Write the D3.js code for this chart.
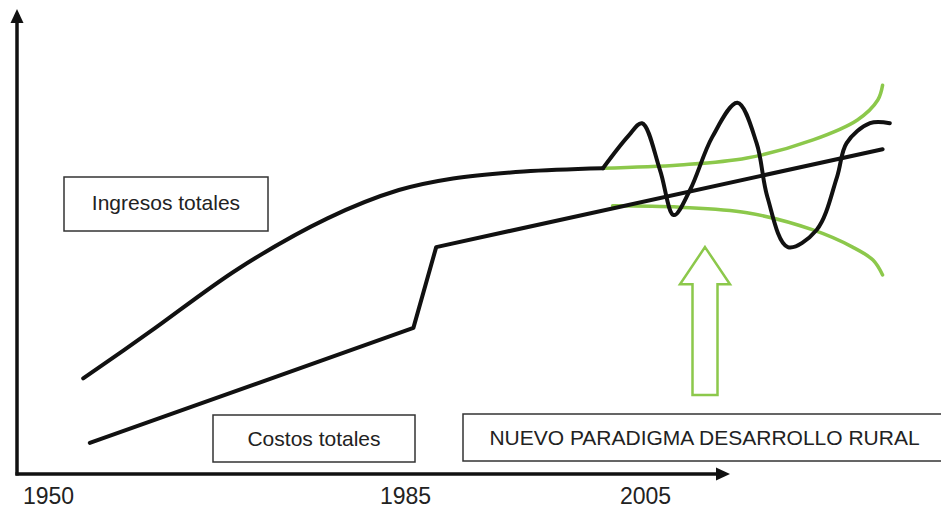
<!DOCTYPE html>
<html>
<head>
<meta charset="utf-8">
<script src="https://cdn.jsdelivr.net/npm/d3@7"></script>
<style>
  body { margin: 0; background: #fff; }
  text { font-family: "Liberation Sans", Arial, sans-serif; fill: #222; }
</style>
</head>
<body>
<div id="chart"></div>
<script>
// Years on the time axis (conceptual, not to scale)
const axisYears = [1950, 1985, 2005];

// Ingresos totales: smooth rise up to ~2001
const ingresosTrend = [
  { year: 1953.45, v: 20.6 }, { year: 1959.9, v: 30.5 }, { year: 1968.7, v: 44.3 },
  { year: 1977.4, v: 55.1 }, { year: 1984.4, v: 61.2 }, { year: 1989.0, v: 63.7 },
  { year: 1994.9, v: 65.2 }, { year: 2001.5, v: 65.9 }
];

// Ingresos totales: volatile phase after ~2001
const ingresosVolatile = [
  { year: 2001.5, v: 65.9 }, { year: 2003.6, v: 72.8 }, { year: 2004.75, v: 75.6 },
  { year: 2006.25, v: 65.5 }, { year: 2007.4, v: 55.8 }, { year: 2008.75, v: 61.2 },
  { year: 2010.6, v: 72.6 }, { year: 2012.7, v: 80.0 }, { year: 2014.3, v: 71.3 },
  { year: 2015.2, v: 59.7 }, { year: 2016.9, v: 48.9 }, { year: 2019.3, v: 52.6 },
  { year: 2021.0, v: 64.0 }, { year: 2021.8, v: 71.3 }, { year: 2023.75, v: 75.6 },
  { year: 2025.4, v: 75.6 }
];

// Costos totales: linear, jump around 1986
const costos = [
  { year: 1954.1, v: 6.7 }, { year: 1985.7, v: 31.5 },
  { year: 1987.6, v: 48.9 }, { year: 2024.8, v: 70.0 }
];

// Green envelope (upper and lower band)
const bandUpper = [
  { year: 2001.4, v: 65.9 }, { year: 2007.9, v: 66.6 }, { year: 2013.5, v: 68.1 },
  { year: 2019.0, v: 72.0 }, { year: 2022.7, v: 76.3 }, { year: 2024.4, v: 80.6 },
  { year: 2024.8, v: 83.8 }
];
const bandLower = [
  { year: 2002.3, v: 57.8 }, { year: 2007.9, v: 57.5 }, { year: 2013.5, v: 56.3 },
  { year: 2019.0, v: 52.6 }, { year: 2022.3, v: 48.9 }, { year: 2024.0, v: 46.1 },
  { year: 2024.8, v: 42.9 }
];

// Upward arrow (year, base value, head base value, tip value)
const arrowData = { year: 2010.0, base: 17.0, headBase: 40.9, tip: 48.9 };

// Labels
const labelIngresos = "Ingresos totales";
const labelCostos = "Costos totales";
const labelParadigma = "NUEVO PARADIGMA DESARROLLO RURAL";

// Dimensions
const width = 941, height = 510;
const origin = { x: 17, y: 474 };
const black = "#111", green = "#8cc84b";

const svg = d3.select("#chart").append("svg")
  .attr("width", width)
  .attr("height", height);

// Scales (piecewise: time axis is not proportional)
const x = d3.scaleLinear().domain([1950, 1985, 2005]).range([48, 405, 645]);
const y = d3.scaleLinear().domain([0, 100]).range([origin.y, 10]);

// Axes lines with arrowheads
svg.append("line")
  .attr("x1", origin.x).attr("y1", origin.y + 1.5)
  .attr("x2", origin.x).attr("y2", 20)
  .style("stroke", black).style("stroke-width", 3.5);
svg.append("path")
  .attr("d", `M${origin.x},9 L${origin.x - 6.5},23 L${origin.x + 6.5},23 Z`)
  .style("fill", black);

svg.append("line")
  .attr("x1", origin.x - 1.5).attr("y1", origin.y)
  .attr("x2", 718).attr("y2", origin.y)
  .style("stroke", black).style("stroke-width", 3.5);
svg.append("path")
  .attr("d", `M730,${origin.y} L716,${origin.y - 6.5} L716,${origin.y + 6.5} Z`)
  .style("fill", black);

// Year labels
const xAxis = svg.append("g")
  .attr("transform", `translate(0,${origin.y})`)
  .call(d3.axisBottom(x).tickValues(axisYears).tickFormat(d3.format("d")).tickSize(0).tickPadding(14));
xAxis.select(".domain").remove();
xAxis.selectAll("text")
  .style("font-family", '"Liberation Sans", Arial, sans-serif')
  .style("font-size", "23px")
  .style("fill", "#222");

// Line generators
const smooth = d3.line()
  .x(d => x(d.year))
  .y(d => y(d.v))
  .curve(d3.curveCatmullRom.alpha(0.5));

const straight = d3.line()
  .x(d => x(d.year))
  .y(d => y(d.v));

// Green envelope
[bandUpper, bandLower].forEach(band => {
  svg.append("path")
    .datum(band)
    .attr("d", smooth)
    .style("fill", "none")
    .style("stroke", green)
    .style("stroke-width", 3.5)
    .style("stroke-linecap", "round");
});

// Costos totales
svg.append("path")
  .datum(costos)
  .attr("d", straight)
  .style("fill", "none")
  .style("stroke", black)
  .style("stroke-width", 4)
  .style("stroke-linecap", "round")
  .style("stroke-linejoin", "round");

// Ingresos totales (trend + volatile phase)
[ingresosTrend, ingresosVolatile].forEach(seg => {
  svg.append("path")
    .datum(seg)
    .attr("d", smooth)
    .style("fill", "none")
    .style("stroke", black)
    .style("stroke-width", 4)
    .style("stroke-linecap", "round");
});

// Green hollow arrow
const ax = x(arrowData.year);
const headHalf = 25, shaftHalf = 12.5;
const arrowPts = [
  [ax, y(arrowData.tip)],
  [ax + headHalf, y(arrowData.headBase)],
  [ax + shaftHalf, y(arrowData.headBase)],
  [ax + shaftHalf, y(arrowData.base)],
  [ax - shaftHalf, y(arrowData.base)],
  [ax - shaftHalf, y(arrowData.headBase)],
  [ax - headHalf, y(arrowData.headBase)]
];
svg.append("path")
  .attr("d", d3.line()(arrowPts) + "Z")
  .style("fill", "white")
  .style("stroke", green)
  .style("stroke-width", 2.5)
  .style("stroke-linejoin", "miter");

// Label boxes
const boxes = [
  { text: labelIngresos, x0: 64, y0: 177, x1: 268, y1: 231, base: 210 },
  { text: labelCostos, x0: 213, y0: 415, x1: 415, y1: 462, base: 446 },
  { text: labelParadigma, x0: 463, y0: 414, x1: 947, y1: 461, base: 445, cx: 704.5 }
];
boxes.forEach(b => {
  svg.append("rect")
    .attr("x", b.x0).attr("y", b.y0)
    .attr("width", b.x1 - b.x0).attr("height", b.y1 - b.y0)
    .style("fill", "white")
    .style("stroke", "#333")
    .style("stroke-width", 1.5);
  svg.append("text")
    .attr("x", b.cx || (b.x0 + b.x1) / 2)
    .attr("y", b.base)
    .attr("text-anchor", "middle")
    .style("font-size", "21px")
    .text(b.text);
});
</script>
</body>
</html>
